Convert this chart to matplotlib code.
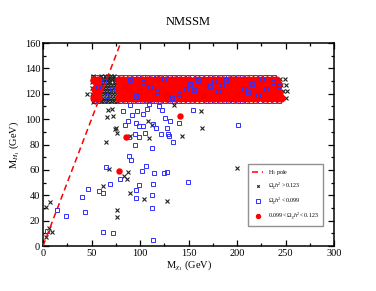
import numpy as np
import matplotlib
matplotlib.use("Agg")
import matplotlib.pyplot as plt

plt.rcParams['font.family'] = ['Liberation Serif', 'DejaVu Serif']
plt.rcParams['mathtext.fontset'] = 'custom'
plt.rcParams['mathtext.rm'] = 'Liberation Serif'
plt.rcParams['mathtext.it'] = 'Liberation Serif:italic'

# H1 pole line: M_H1 = 2 M_chi1
pole_x = [0, 80]
pole_y = [0, 160]

# ---- dense band ----
red_rows = {
    117.0: [53, 57, 78, 83, 87.5, 93, 97, 102, 107.5, 112, 117, 121.5, 127, 131, 136.5, 141, 146,
            151.5, 156, 161, 166.5, 171, 176, 181.5, 186, 191, 196.5, 201, 206, 211.5, 216, 221,
            226.5, 231, 236, 241, 245],
    120.5: [55, 80, 85, 90, 95, 99.5, 105, 110, 114.5, 119, 124.5, 129, 134, 139, 143.5, 149, 154,
            158.5, 163.5, 169, 173.5, 178.5, 184, 188.5, 193.5, 198.5, 203.5, 209, 213.5, 218.5,
            224, 228.5, 233.5, 238.5, 243],
    124.0: [53.5, 57.5, 77.5, 82.5, 87, 92.5, 97.5, 102, 107, 112.5, 116.5, 122, 126.5, 131.5, 137,
            141.5, 146.5, 151, 156.5, 161.5, 166, 171.5, 176, 180.5, 186.5, 191, 196, 201.5, 206,
            210.5, 216, 221.5, 226, 231, 236.5, 241.5],
    127.5: [55.5, 79.5, 85.5, 89.5, 95, 100, 104.5, 109.5, 115, 119.5, 124, 129.5, 134.5, 139, 144,
            148.5, 153.5, 159, 163.5, 168.5, 174, 178.5, 183, 188.5, 193, 198, 203.5, 208, 213,
            218.5, 223, 228, 233.5, 238, 242],
    131.0: [53, 57, 78, 82, 87.5, 92, 97, 102.5, 107, 111.5, 117, 122, 126.5, 131.5, 136, 141.5, 146,
            151, 156.5, 161, 166, 171.5, 176.5, 181, 186, 191.5, 196, 201, 206.5, 211, 216, 221.5,
            226, 231, 236, 240],
}

blue_rows = {
    133.5: [52, 56, 61, 66, 70, 75, 80, 84, 89, 93.5, 98, 103, 107.5, 112, 117, 121, 126, 130.5, 135,
            140, 144.5, 149, 154, 158.5, 163, 168, 172.5, 177, 182, 186.5, 191, 196, 200.5, 205,
            210, 214.5, 219, 224, 228.5, 233, 238],
    131.5: [54, 79, 86, 95, 105, 115, 124, 133, 142, 151, 161, 170, 179, 189, 198, 208, 217, 227, 236],
    115.5: [55, 81, 91, 100, 110, 119, 128, 138, 147, 156, 166, 175, 184, 193, 203, 212, 221, 231, 240],
    114.3: [53, 58, 63, 68, 74, 79, 84, 88.5, 93, 98, 102.5, 107, 112, 116.5, 121, 126, 130.5, 135,
            140, 144.5, 149, 154, 158.5, 163, 168, 172.5, 177, 182, 186.5, 191, 196, 200.5, 205,
            210, 214.5, 219, 224, 228.5, 233, 238, 243],
}

blue_in_x = [84, 96, 103, 118, 125, 133, 147, 152, 165, 172, 180, 189, 194, 207, 215, 222, 230, 237,
             110, 90, 160, 200, 140, 185, 243, 63, 66, 71, 57, 99, 128, 156, 176, 211, 226]
blue_in_y = [125, 118, 129, 121, 132, 117, 124, 128, 119, 126, 122, 131, 116, 124, 128, 119, 124, 129,
             125, 131, 131, 119, 120, 127, 126, 130, 118, 124, 125, 122, 119, 123, 130, 121, 132]

black_rows = {
    114.5: [60, 63, 66.5, 70, 73, 76],
    117.0: [61.5, 64.5, 68, 71.5, 74.5, 246, 250],
    119.5: [59.5, 62.5, 66, 69, 72.5, 75.5, 45, 50],
    122.0: [61, 64, 67.5, 70.5, 74, 247, 251],
    124.5: [59.5, 63, 66, 69.5, 72.5, 75.5, 51],
    127.0: [61, 64.5, 68, 71, 74, 245, 250],
    129.5: [60, 63, 66.5, 69.5, 73, 76, 50.5],
    132.0: [61.5, 65, 68, 71.5, 74.5, 244, 249],
    134.0: [60, 64, 67, 70.5, 73.5, 52],
}

# ---- scattered points below the band ----
blue_sc_x = [3.8, 14.8, 23.7, 40.2, 43.3, 46.7, 58, 61.5, 61.5, 64.9, 69, 72.2, 79.4, 89, 90.7, 95.5,
             96.2, 99.3, 102.4, 106.1, 113.7, 112, 112, 113.7, 114.4, 125, 127.5, 149.2, 112, 95.2,
             82.8, 89.7, 91.4, 97.2, 87.9, 84.5, 95.9, 99.3, 103.4, 94.8, 98.6, 89, 105.2, 103.4,
             107.5, 109.3, 119.6, 122.4, 125.8, 130.9, 127.5, 116.2, 113.7, 121.6, 129.2, 130.2,
             134.3, 140.5, 155, 200.7]
blue_sc_y = [11.8, 28.4, 23.6, 38.6, 26.5, 44.9, 43.3, 41.5, 11.3, 62, 48.6, 10, 52.6, 70.9, 67.8, 44.1,
             37.6, 48.3, 59.3, 63, 4.7, 29.7, 40.2, 48.9, 57.3, 57.8, 58.6, 50.7, 77, 79.6,
             106.4, 110.9, 103.2, 106.6, 98.8, 95.4, 96.7, 94.6, 94.6, 88.3, 86.1, 86.1, 88.8, 103.8,
             107.7, 111.9, 110.6, 107.2, 100.6, 98.8, 92.8, 92.8, 96.2, 88.3, 88.3, 86.7,
             82.2, 97.2, 107.2, 95.4]

black_sc_x = [2.8, 3.1, 6.2, 7.2, 9.6, 51.2, 61.9, 64.9, 65.6, 67.3, 68.3, 71.4, 71.8, 73.9, 75.5, 76.6,
              75.9, 75.9, 83.8, 86.2, 87.9, 89.4, 103.8, 108.6, 112, 109.6, 128.2, 135.3, 143.6,
              162.5, 163.9, 200.3, 89.5]
black_sc_y = [7.3, 30.5, 13.9, 34.4, 11.3, 113.7, 47.5, 81.7, 101.9, 107.2, 60.7, 107.7, 102.5, 92.2,
              92.8, 89.3, 28.4, 23.1, 54.9, 53, 58.1, 41.8, 36.8, 98.8, 95.4, 84.9, 35.5, 111.4, 86.7,
              106.4, 93.2, 61.8, 86.5]

red_sc_x = [85.2, 78.7, 141.2]
red_sc_y = [85.9, 59.1, 102.7]


def unroll(rows):
    xs, ys = [], []
    for y, row in rows.items():
        xs += row
        ys += [y] * len(row)
    return np.array(xs), np.array(ys)


red_bx, red_by = unroll(red_rows)
blue_bx, blue_by = unroll(blue_rows)
black_bx, black_by = unroll(black_rows)

fig = plt.figure(figsize=(3.76, 2.91), dpi=100)
ax = fig.add_axes([0.1144, 0.1546, 0.774, 0.6976])

blue_kw = dict(ls='none', marker='s', ms=2.8, mfc='none', mec='#3030ff', mew=0.7)
black_kw = dict(ls='none', marker='x', ms=2.2, color='#222222', mew=0.8)
red_kw = dict(ls='none', marker='o', ms=5.0, color='red', mec='red')

ax.plot(blue_bx, blue_by, zorder=2, **blue_kw)
ax.plot(black_bx, black_by, zorder=2, **black_kw)
ax.plot(red_bx, red_by, zorder=3, **red_kw)
ax.plot(blue_in_x, blue_in_y, zorder=4, **blue_kw)

ax.plot(pole_x, pole_y, color='red', ls=(0, (4, 2.5)), lw=1.1, zorder=5, label='H$_1$ pole')
ax.plot(black_sc_x, black_sc_y, zorder=2, label=r'$\Omega_\chi h^2 > 0.123$', **black_kw)
ax.plot(blue_sc_x, blue_sc_y, zorder=2, label=r'$\Omega_\chi h^2 < 0.099$', **blue_kw)
ax.plot(red_sc_x, red_sc_y, zorder=3, label=r'$0.099 < \Omega_\chi h^2 < 0.123$',
        ls='none', marker='o', ms=3.6, color='red')

ax.set_xlim(0, 300)
ax.set_ylim(0, 160)
ax.set_xticks(np.arange(0, 301, 50))
ax.set_xticks(np.arange(0, 301, 25), minor=True)
ax.set_yticks(np.arange(0, 161, 20))
ax.set_yticks(np.arange(0, 161, 10), minor=True)
ax.tick_params(which='both', direction='in', top=True, right=True, labelsize=7.5, pad=2)
ax.tick_params(which='major', length=4.5, width=0.9)
ax.tick_params(which='minor', length=2.5, width=0.9)
for s in ax.spines.values():
    s.set_linewidth(1.1)

ax.set_xlabel(r'M$_{\chi_1}$ (GeV)', fontsize=7.5, labelpad=1)
ax.set_ylabel(r'M$_{H_1}$ (GeV)', fontsize=7.5, labelpad=2)
fig.text(0.5, 0.925, 'NMSSM', ha='center', va='center', fontsize=9)

leg = ax.legend(loc='lower right', bbox_to_anchor=(0.962, 0.1), fontsize=4.3, frameon=True,
                fancybox=False, edgecolor='#777777', handlelength=2.0, borderpad=0.6,
                labelspacing=0.6, handletextpad=0.8, borderaxespad=0.0, markerscale=0.8)
leg.get_frame().set_linewidth(1.0)

fig.savefig('out.png', dpi=100)
